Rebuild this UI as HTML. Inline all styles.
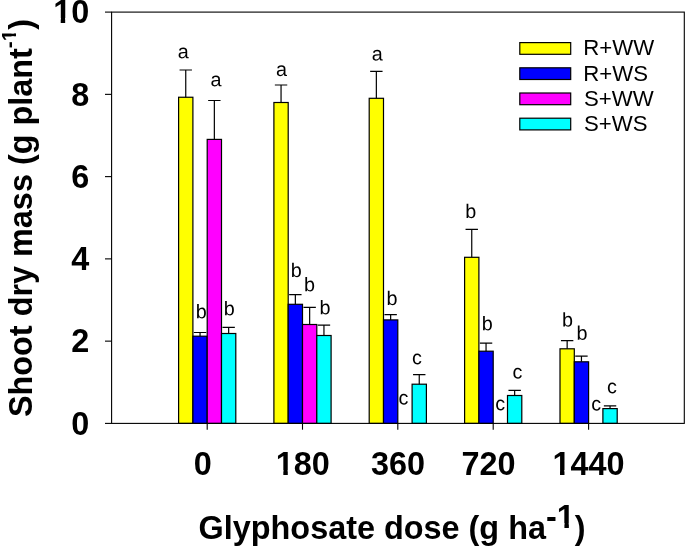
<!DOCTYPE html>
<html><head><meta charset="utf-8"><title>Shoot dry mass vs glyphosate dose</title>
<style>html,body{margin:0;padding:0;background:#fff}svg{display:block}text{font-family:"Liberation Sans",Arial,Helvetica,sans-serif;fill:#000;font-kerning:none}.b{font-weight:bold;font-size:32.4px}.l{font-size:19.8px;text-anchor:middle}.g{font-size:21.8px}.m rect{fill:#fff}</style></head><body>
<svg width="685" height="546" viewBox="0 0 685 546">
<rect width="685" height="546" fill="#fff"/>
<text class="b" text-anchor="end" x="89.2" y="434.60">0</text>
<text class="b" text-anchor="end" x="89.2" y="352.34">2</text>
<text class="b" text-anchor="end" x="89.2" y="270.08">4</text>
<text class="b" text-anchor="end" x="89.2" y="187.82">6</text>
<text class="b" text-anchor="end" x="89.2" y="105.56">8</text>
<text class="b" text-anchor="end" x="89.2" y="23.30">10</text>
<text class="b" text-anchor="middle" x="202.80" y="475.3">0</text>
<text class="b" text-anchor="middle" x="302.80" y="475.3">180</text>
<text class="b" text-anchor="middle" x="398.10" y="475.3">360</text>
<text class="b" text-anchor="middle" x="488.60" y="475.3">720</text>
<text class="b" text-anchor="middle" x="588.50" y="475.3">1440</text>
<text class="b" x="198.6" y="539.2">Glyphosate dose (g ha<tspan dy="-10.9">-1</tspan><tspan dy="10.9">)</tspan></text>
<g transform="translate(32.3 417.1) rotate(-90)"><text class="b">Shoot dry mass (g plant<tspan dy="-16.7" font-size="20.8">-1</tspan><tspan dy="16.7">)</tspan></text>
<g class="m"><rect x="376.37" y="-20.82" width="4.45" height="5.12"/><rect x="383.68" y="-20.82" width="4.07" height="5.12"/></g></g>
<g class="m"><rect x="53.79" y="17.99" width="6.93" height="6.31"/><rect x="65.17" y="17.99" width="6.34" height="6.31"/><rect x="276.40" y="469.99" width="6.93" height="6.31"/><rect x="287.78" y="469.99" width="6.34" height="6.31"/><rect x="553.09" y="469.99" width="6.93" height="6.31"/><rect x="564.47" y="469.99" width="6.34" height="6.31"/><rect x="557.48" y="522.99" width="6.93" height="6.31"/><rect x="568.86" y="522.99" width="6.34" height="6.31"/></g>
<g stroke="#000" stroke-width="1.2">
<rect x="178.60" y="97.25" width="14.30" height="326.15" fill="#ffff00"/>
<path d="M185.75 97.25V70.00M179.55 70.00H191.95" fill="none"/>
<rect x="192.90" y="336.20" width="14.30" height="87.20" fill="#0000ff"/>
<path d="M200.05 336.20V332.50M193.85 332.50H206.25" fill="none"/>
<rect x="207.20" y="139.40" width="14.30" height="284.00" fill="#ff00ff"/>
<path d="M214.35 139.40V100.50M208.15 100.50H220.55" fill="none"/>
<rect x="221.50" y="333.50" width="14.30" height="89.90" fill="#00ffff"/>
<path d="M228.65 333.50V327.30M222.45 327.30H234.85" fill="none"/>
<rect x="273.90" y="102.50" width="14.30" height="320.90" fill="#ffff00"/>
<path d="M281.05 102.50V85.00M274.85 85.00H287.25" fill="none"/>
<rect x="288.20" y="304.30" width="14.30" height="119.10" fill="#0000ff"/>
<path d="M295.35 304.30V294.60M289.15 294.60H301.55" fill="none"/>
<rect x="302.50" y="324.50" width="14.30" height="98.90" fill="#ff00ff"/>
<path d="M309.65 324.50V307.35M303.45 307.35H315.85" fill="none"/>
<rect x="316.80" y="335.50" width="14.30" height="87.90" fill="#00ffff"/>
<path d="M323.95 335.50V325.10M317.75 325.10H330.15" fill="none"/>
<rect x="369.20" y="98.30" width="14.30" height="325.10" fill="#ffff00"/>
<path d="M376.35 98.30V71.30M370.15 71.30H382.55" fill="none"/>
<rect x="383.50" y="319.90" width="14.30" height="103.50" fill="#0000ff"/>
<path d="M390.65 319.90V314.60M384.45 314.60H396.85" fill="none"/>
<rect x="412.10" y="384.20" width="14.30" height="39.20" fill="#00ffff"/>
<path d="M419.25 384.20V374.60M413.05 374.60H425.45" fill="none"/>
<rect x="464.60" y="257.30" width="14.30" height="166.10" fill="#ffff00"/>
<path d="M471.75 257.30V229.30M465.55 229.30H477.95" fill="none"/>
<rect x="478.90" y="351.20" width="14.30" height="72.20" fill="#0000ff"/>
<path d="M486.05 351.20V343.20M479.85 343.20H492.25" fill="none"/>
<rect x="507.50" y="395.50" width="14.30" height="27.90" fill="#00ffff"/>
<path d="M514.65 395.50V390.30M508.45 390.30H520.85" fill="none"/>
<rect x="560.00" y="348.80" width="14.30" height="74.60" fill="#ffff00"/>
<path d="M567.15 348.80V340.60M560.95 340.60H573.35" fill="none"/>
<rect x="574.30" y="361.80" width="14.30" height="61.60" fill="#0000ff"/>
<path d="M581.45 361.80V356.10M575.25 356.10H587.65" fill="none"/>
<rect x="602.90" y="408.60" width="14.30" height="14.80" fill="#00ffff"/>
<path d="M610.05 408.60V405.90M603.85 405.90H616.25" fill="none"/>
</g>
<g stroke="#000" stroke-width="1.1" fill="none">
<rect x="111.60" y="12.10" width="572.70" height="411.30"/>
<path d="M105.00 423.40H111.60"/>
<path d="M105.00 341.14H111.60"/>
<path d="M105.00 258.88H111.60"/>
<path d="M105.00 176.62H111.60"/>
<path d="M105.00 94.36H111.60"/>
<path d="M105.00 12.10H111.60"/>
<path d="M207.20 423.40V429.70"/>
<path d="M302.50 423.40V429.70"/>
<path d="M397.80 423.40V429.70"/>
<path d="M493.20 423.40V429.70"/>
<path d="M588.60 423.40V429.70"/>
</g>
<text class="l" transform="translate(183.20 58.20) rotate(0.03)">a</text>
<text class="l" transform="translate(216.00 86.30) rotate(0.03)">a</text>
<text class="l" transform="translate(201.35 318.20) rotate(0.03)">b</text>
<text class="l" transform="translate(229.15 315.30) rotate(0.03)">b</text>
<text class="l" transform="translate(281.40 75.90) rotate(0.03)">a</text>
<text class="l" transform="translate(296.15 277.00) rotate(0.03)">b</text>
<text class="l" transform="translate(309.45 291.20) rotate(0.03)">b</text>
<text class="l" transform="translate(325.05 314.20) rotate(0.03)">b</text>
<text class="l" transform="translate(377.20 60.50) rotate(0.03)">a</text>
<text class="l" transform="translate(392.05 304.90) rotate(0.03)">b</text>
<text class="l" transform="translate(416.95 364.20) rotate(0.03)">c</text>
<text class="l" transform="translate(403.45 404.50) rotate(0.03)">c</text>
<text class="l" transform="translate(470.65 217.90) rotate(0.03)">b</text>
<text class="l" transform="translate(487.15 330.30) rotate(0.03)">b</text>
<text class="l" transform="translate(517.35 378.60) rotate(0.03)">c</text>
<text class="l" transform="translate(500.25 410.20) rotate(0.03)">c</text>
<text class="l" transform="translate(567.45 326.60) rotate(0.03)">b</text>
<text class="l" transform="translate(582.05 339.80) rotate(0.03)">b</text>
<text class="l" transform="translate(611.95 393.20) rotate(0.03)">c</text>
<text class="l" transform="translate(596.15 410.60) rotate(0.03)">c</text>
<rect x="519.8" y="42.60" width="50.9" height="11.7" fill="#ffff00" stroke="#000" stroke-width="1.2"/>
<text class="g" transform="translate(583.27 55.30) scale(1.02 1)">R+WW</text>
<rect x="519.8" y="67.80" width="50.9" height="11.7" fill="#0000ff" stroke="#000" stroke-width="1.2"/>
<text class="g" transform="translate(583.27 80.50) scale(1.02 1)">R+WS</text>
<rect x="519.8" y="93.00" width="50.9" height="11.7" fill="#ff00ff" stroke="#000" stroke-width="1.2"/>
<text class="g" transform="translate(583.98 105.70) scale(1.02 1)">S+WW</text>
<rect x="519.8" y="118.20" width="50.9" height="11.7" fill="#00ffff" stroke="#000" stroke-width="1.2"/>
<text class="g" transform="translate(583.98 130.90) scale(1.02 1)">S+WS</text>
</svg></body></html>
